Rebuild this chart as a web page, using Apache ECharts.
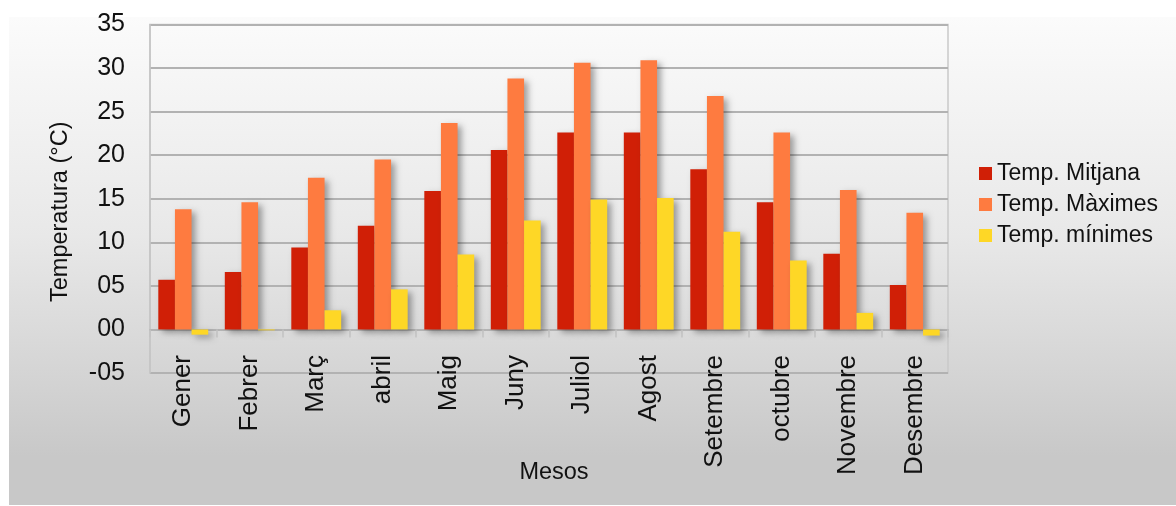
<!DOCTYPE html>
<html>
<head>
<meta charset="utf-8">
<script src="https://cdn.jsdelivr.net/npm/echarts@6/dist/echarts.min.js"></script>
<style>
  html, body { margin: 0; padding: 0; background: #ffffff; }
  #chart { width: 1176px; height: 506px; }
</style>
</head>
<body>
<div id="chart"></div>
<script>
// Monthly temperatures (°C)
const months = ['Gener', 'Febrer', 'Març', 'abril', 'Maig', 'Juny', 'Juliol', 'Agost', 'Setembre', 'octubre', 'Novembre', 'Desembre'];
const tempMitjana = [5.7, 6.6, 9.4, 11.9, 15.9, 20.6, 22.6, 22.6, 18.4, 14.6, 8.7, 5.1];
const tempMaximes = [13.8, 14.6, 17.4, 19.5, 23.7, 28.8, 30.6, 30.9, 26.8, 22.6, 16.0, 13.4];
const tempMinimes = [-0.6, -0.1, 2.2, 4.6, 8.6, 12.5, 14.9, 15.1, 11.2, 7.9, 1.9, -0.7];
const seriesNames = ['Temp. Mitjana', 'Temp. Màximes', 'Temp. mínimes'];
const seriesColors = ['#d01f06', '#fe7b40', '#fed726'];

const FONT = '"Liberation Sans", Arial, sans-serif';

function pad2(v) {
  if (v < 0) return '-' + String(-v).padStart(2, '0');
  return String(v).padStart(2, '0');
}

const barShadow = {
  shadowColor: 'rgba(0,0,0,0.35)',
  shadowBlur: 6,
  shadowOffsetX: 4,
  shadowOffsetY: 3
};

const chart = echarts.init(document.getElementById('chart'));
chart.setOption({
  animation: false,
  textStyle: { fontFamily: FONT, color: '#111' },
  graphic: [{
    type: 'rect',
    z: -10,
    silent: true,
    shape: { x: 9, y: 17, width: 1167, height: 488 },
    style: {
      fill: new echarts.graphic.LinearGradient(0, 0, 0, 1, [
        { offset: 0, color: '#fbfbfb' },
        { offset: 0.45, color: '#e8e8e8' },
        { offset: 0.75, color: '#d3d3d3' },
        { offset: 0.9, color: '#c8c8c8' },
        { offset: 1, color: '#c8c8c8' }
      ])
    }
  }],
  grid: {
    left: 150, right: 228, top: 24.5, bottom: 133,
    outerBoundsMode: 'none',
    containLabel: false,
    show: true, borderColor: '#c9c9c9', borderWidth: 1.5,
    backgroundColor: 'transparent'
  },
  legend: {
    orient: 'vertical',
    left: 974, top: 157,
    itemWidth: 13, itemHeight: 13, itemGap: 8,
    icon: 'rect',
    textStyle: { fontFamily: FONT, fontSize: 23, color: '#111', lineHeight: 22 },
    itemStyle: { shadowBlur: 0, shadowOffsetX: 0, shadowOffsetY: 0 },
    data: seriesNames
  },
  xAxis: {
    type: 'category',
    data: months,
    name: 'Mesos',
    nameLocation: 'middle',
    nameGap: 88,
    nameMoveOverlap: false,
    nameTextStyle: { fontFamily: FONT, fontSize: 23.5, color: '#111', padding: [0, 0, 0, 10] },
    axisLine: { onZero: true, lineStyle: { color: '#b4b4b4', width: 2 } },
    axisTick: { show: true, length: 8, lineStyle: { color: '#c4c4c4', width: 1.5 } },
    axisLabel: { rotate: 90, margin: -18, fontFamily: FONT, fontSize: 26, color: '#111' }
  },
  yAxis: {
    type: 'value',
    min: -5, max: 35, interval: 5,
    name: 'Temperatura (°C)',
    nameLocation: 'middle',
    nameRotate: 90,
    nameGap: 77,
    nameMoveOverlap: false,
    nameTextStyle: { fontFamily: FONT, fontSize: 23.5, color: '#111', padding: [0, 26, 0, 0] },
    axisLine: { show: true, lineStyle: { color: '#c4c4c4', width: 1.5 } },
    axisTick: { show: false },
    axisLabel: { margin: 25, fontFamily: FONT, fontSize: 25, color: '#111', formatter: pad2 },
    splitLine: { show: true, lineStyle: { color: '#b2b2b2', width: 2 } }
  },
  series: [tempMitjana, tempMaximes, tempMinimes].map((values, i) => ({
    type: 'bar',
    name: seriesNames[i],
    data: values,
    barGap: '0%',
    barCategoryGap: '25%',
    itemStyle: Object.assign({ color: seriesColors[i] }, barShadow)
  }))
});
</script>
</body>
</html>
